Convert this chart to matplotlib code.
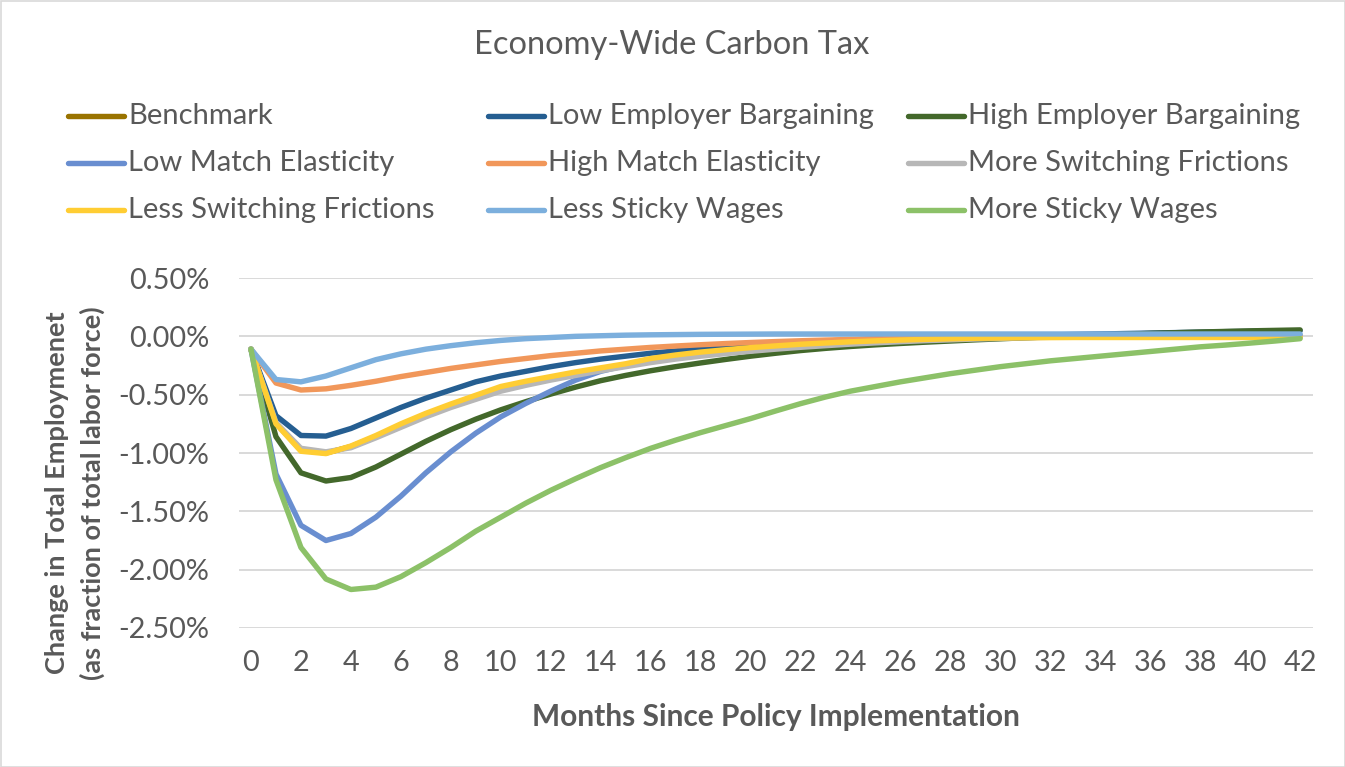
import matplotlib
matplotlib.use("Agg")
import matplotlib.pyplot as plt
from matplotlib.lines import Line2D
from matplotlib.patches import Rectangle
from matplotlib.ticker import FuncFormatter

plt.rcParams['font.family'] = ['Lato', 'DejaVu Sans']

months = list(range(43))

series_names = [
    "Benchmark", "Low Employer Bargaining", "High Employer Bargaining",
    "Low Match Elasticity", "High Match Elasticity", "More Switching Frictions",
    "Less Switching Frictions", "Less Sticky Wages", "More Sticky Wages",
]
series_colors = ["#997300", "#255E91", "#43682B", "#698ED0", "#F1975A",
                 "#B7B7B7", "#FFCD33", "#7CAFDD", "#8CC168"]

benchmark = [-0.11, -0.745, -0.975, -1.0, -0.945, -0.86, -0.765, -0.675, -0.595, -0.52,
             -0.45, -0.40, -0.36, -0.32, -0.285, -0.25, -0.215, -0.185, -0.16, -0.138,
             -0.118, -0.10, -0.085, -0.072, -0.06, -0.049, -0.04, -0.032, -0.025, -0.019,
             -0.014, -0.01, -0.007, -0.005, -0.003, -0.002, -0.001, 0.0, 0.0, 0.0,
             0.0, 0.0, 0.0]
low_employer = [-0.11, -0.68, -0.85, -0.855, -0.79, -0.70, -0.61, -0.53, -0.46, -0.39,
                -0.34, -0.30, -0.26, -0.225, -0.195, -0.17, -0.145, -0.125, -0.105, -0.09,
                -0.075, -0.062, -0.05, -0.04, -0.031, -0.023, -0.016, -0.01, -0.005, 0.0,
                0.004, 0.008, 0.012, 0.016, 0.02, 0.024, 0.028, 0.032, 0.036, 0.04,
                0.043, 0.046, 0.048]
high_employer = [-0.11, -0.86, -1.17, -1.24, -1.21, -1.12, -1.01, -0.90, -0.80, -0.71,
                 -0.63, -0.56, -0.495, -0.435, -0.38, -0.335, -0.295, -0.26, -0.228, -0.198,
                 -0.17, -0.145, -0.122, -0.103, -0.087, -0.073, -0.061, -0.05, -0.04, -0.03,
                 -0.021, -0.012, -0.004, 0.004, 0.011, 0.018, 0.025, 0.031, 0.037, 0.042,
                 0.047, 0.051, 0.055]
low_match = [-0.11, -1.18, -1.62, -1.75, -1.69, -1.55, -1.37, -1.17, -0.99, -0.83,
             -0.69, -0.575, -0.47, -0.375, -0.30, -0.25, -0.21, -0.175, -0.15, -0.125,
             -0.105, -0.088, -0.073, -0.06, -0.049, -0.04, -0.032, -0.025, -0.019, -0.014,
             -0.01, -0.006, -0.003, 0.0, 0.002, 0.003, 0.004, 0.005, 0.006, 0.007,
             0.008, 0.009, 0.01]
high_match = [-0.11, -0.40, -0.46, -0.45, -0.42, -0.385, -0.345, -0.31, -0.275, -0.245,
              -0.215, -0.19, -0.165, -0.145, -0.125, -0.11, -0.095, -0.083, -0.072, -0.062,
              -0.053, -0.045, -0.038, -0.032, -0.027, -0.022, -0.018, -0.015, -0.012, -0.01,
              -0.008, -0.006, -0.005, -0.004, -0.003, -0.002, -0.002, -0.001, -0.001, 0.0,
              0.0, 0.0, 0.0]
more_switching = [-0.11, -0.74, -0.96, -0.99, -0.955, -0.87, -0.78, -0.69, -0.61, -0.54,
                  -0.47, -0.42, -0.375, -0.335, -0.295, -0.26, -0.225, -0.195, -0.17, -0.148,
                  -0.128, -0.11, -0.094, -0.08, -0.067, -0.056, -0.046, -0.037, -0.03, -0.023,
                  -0.017, -0.012, -0.008, -0.005, -0.002, 0.0, 0.0, 0.0, 0.0, 0.0,
                  0.0, 0.0, 0.0]
less_switching = [-0.11, -0.75, -0.985, -1.005, -0.94, -0.85, -0.75, -0.66, -0.58, -0.505,
                  -0.43, -0.385, -0.345, -0.305, -0.27, -0.235, -0.19, -0.16, -0.135, -0.115,
                  -0.097, -0.082, -0.068, -0.057, -0.047, -0.039, -0.032, -0.026, -0.021, -0.017,
                  -0.014, -0.012, -0.011, -0.01, -0.01, -0.01, -0.01, -0.01, -0.01, -0.01,
                  -0.01, -0.01, -0.01]
less_sticky = [-0.11, -0.37, -0.39, -0.34, -0.27, -0.20, -0.15, -0.11, -0.08, -0.055,
               -0.035, -0.02, -0.01, 0.0, 0.005, 0.01, 0.013, 0.015, 0.017, 0.018,
               0.019, 0.02, 0.02, 0.02, 0.02, 0.02, 0.02, 0.02, 0.02, 0.02,
               0.02, 0.02, 0.02, 0.02, 0.02, 0.02, 0.02, 0.02, 0.02, 0.02,
               0.02, 0.02, 0.02]
more_sticky = [-0.11, -1.23, -1.81, -2.08, -2.17, -2.15, -2.06, -1.94, -1.81, -1.67,
               -1.55, -1.43, -1.32, -1.22, -1.125, -1.04, -0.96, -0.89, -0.825, -0.765,
               -0.705, -0.64, -0.577, -0.52, -0.47, -0.43, -0.39, -0.355, -0.32, -0.29,
               -0.26, -0.235, -0.21, -0.19, -0.17, -0.15, -0.13, -0.11, -0.09, -0.075,
               -0.058, -0.04, -0.02]

all_series = [benchmark, low_employer, high_employer, low_match, high_match,
              more_switching, less_switching, less_sticky, more_sticky]

y_ticks = [0.5, 0.0, -0.5, -1.0, -1.5, -2.0, -2.5]
x_ticks = list(range(0, 43, 2))

TEXT = "#595959"
W, H = 1345, 767
fig = plt.figure(figsize=(W / 100, H / 100), dpi=100)
ax = fig.add_axes([238.5 / W, (H - 628) / H, (1312.6 - 238.5) / W, 350 / H])

for name, col, vals in zip(series_names, series_colors, all_series):
    ax.plot(months, vals, color=col, lw=3.9, solid_capstyle='round',
            solid_joinstyle='round', label=name)

ax.set_xlim(-0.5, 42.5)
ax.set_ylim(-2.5, 0.5)
ax.set_yticks(y_ticks)
ax.set_xticks(x_ticks)
ax.yaxis.set_major_formatter(FuncFormatter(lambda v, p: f"{v:.2f}%"))
ax.grid(axis='y', color='#d9d9d9', lw=1.4)
ax.set_axisbelow(True)
for s in ax.spines.values():
    s.set_visible(False)
ax.tick_params(axis='both', length=0, labelsize=20.8, colors=TEXT)
ax.tick_params(axis='y', pad=21)
ax.tick_params(axis='x', pad=16)

fig.text(672 / W, 1 - 45 / H, "Economy-Wide Carbon Tax", ha='center', va='center',
         fontsize=23.5, color=TEXT)
fig.text(776 / W, 1 - 717 / H, "Months Since Policy Implementation", ha='center',
         va='center', fontsize=21.5, fontweight='bold', color=TEXT)
fig.text(75 / W, 1 - 493 / H, "Change in Total Employmenet\n(as fraction of total labor force)",
         ha='center', va='center', rotation=90, fontsize=19.5, fontweight='bold',
         color=TEXT, multialignment='center', linespacing=1.5)

# legend laid out in a 3-column grid
col_x = [68, 488, 908]
row_y = [116, 163, 210]
for i, (name, col) in enumerate(zip(series_names, series_colors)):
    r, c = divmod(i, 3)
    x0 = col_x[c]
    y = 1 - row_y[r] / H
    fig.add_artist(Line2D([x0 / W, (x0 + 56) / W], [y, y], color=col, lw=3.9,
                          solid_capstyle='round', transform=fig.transFigure))
    fig.text((x0 + 60) / W, y, name, ha='left', va='center', fontsize=21, color=TEXT)

fig.add_artist(Rectangle((0.5 / W, 0.5 / H), 1 - 1 / W, 1 - 1 / H, fill=False,
                         edgecolor='#d9d9d9', lw=1.2, transform=fig.transFigure))

fig.savefig("out.png", dpi=100)
